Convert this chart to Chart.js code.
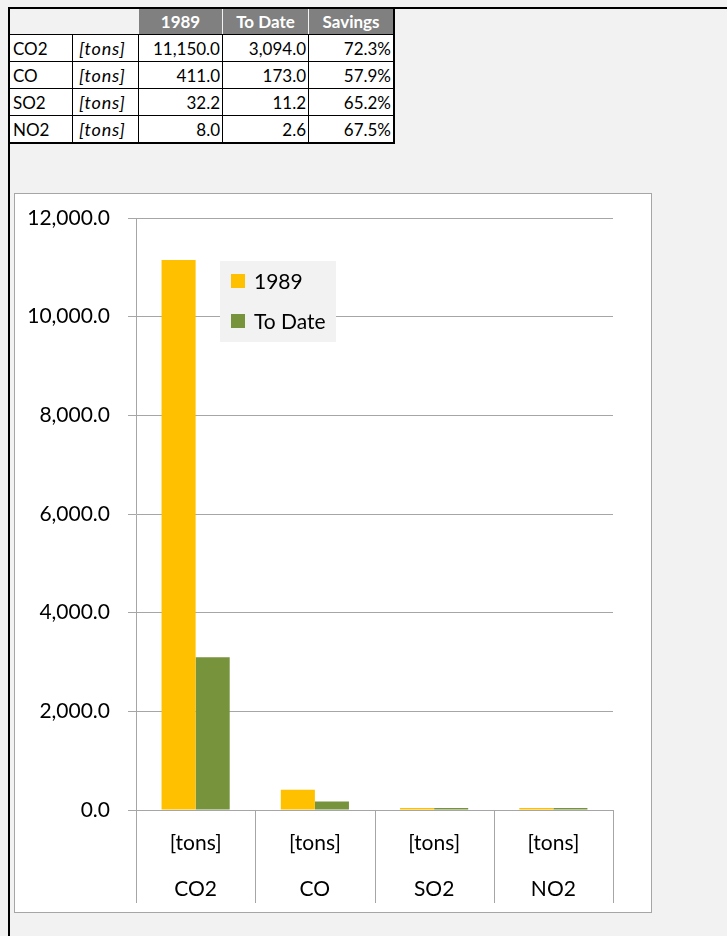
<!DOCTYPE html>
<html>
<head>
<meta charset="utf-8">
<script src="https://cdn.jsdelivr.net/npm/chart.js@4.4.0/dist/chart.umd.min.js"></script>
<style>
  body { margin: 0; background: #f2f2f2; width: 727px; height: 936px; overflow: hidden; position: relative; font-family: Lato, sans-serif; }
  #frame { position: absolute; left: 8px; top: 7px; width: 730px; height: 940px; border-top: 2px solid #000; border-left: 2px solid #000; }
  #tbl { position: absolute; left: 8px; top: 7px; border-collapse: collapse; border: 2px solid #000; font-size: 17px; }
  #tbl td { border: 1px solid #000; height: 26px; padding: 0 2px 0 3px; background: #fff; line-height: 17px; }
  #tbl td.num { text-align: right; }
  #tbl td.unit { font-style: italic; font-size: 18px; padding-left: 6px; letter-spacing: 0.8px; }
  #tbl th { height: 25px; padding: 0; background: #808080; color: #fff; font-weight: bold; border-left: 1px solid #f2f2f2; border-bottom: 1px solid #000; }
  #tbl th.blank { background: #f2f2f2; border-left: none; }
  #box { position: absolute; left: 14px; top: 193px; width: 636px; height: 718px; border: 1px solid #a6a6a6; background: #fff; }
  #box canvas { position: absolute; left: 0; top: 0; }
</style>
</head>
<body>
<div id="frame"></div>
<table id="tbl"></table>
<div id="box"><canvas id="chart" width="636" height="718"></canvas></div>
<script>
const categories = ["CO2", "CO", "SO2", "NO2"];
const units = ["[tons]", "[tons]", "[tons]", "[tons]"];
const values1989 = [11150.0, 411.0, 32.2, 8.0];
const valuesToDate = [3094.0, 173.0, 11.2, 2.6];
const savings = [72.3, 57.9, 65.2, 67.5];
const seriesNames = ["1989", "To Date", "Savings"];
const colors = ["#ffc000", "#77933c"];

function fmt(v) {
  return v.toLocaleString("en-US", { minimumFractionDigits: 1, maximumFractionDigits: 1 });
}

// table above the chart
const tbl = document.getElementById("tbl");
let html = '<tr><th class="blank" colspan="2" style="width:128px"></th>' +
  '<th style="width:83px">' + seriesNames[0] + '</th>' +
  '<th style="width:85px">' + seriesNames[1] + '</th>' +
  '<th style="width:84px">' + seriesNames[2] + '</th></tr>';
categories.forEach((c, i) => {
  html += '<tr><td style="width:57px">' + c + '</td><td class="unit">' + units[i] + '</td>' +
    '<td class="num">' + fmt(values1989[i]) + '</td>' +
    '<td class="num">' + fmt(valuesToDate[i]) + '</td>' +
    '<td class="num">' + savings[i].toFixed(1) + '%</td></tr>';
});
tbl.innerHTML = html;

const FONT = "Lato";

// legend box drawn inside the plot area
const legendBox = {
  id: "legendBox",
  afterDraw(chart) {
    const ctx = chart.ctx;
    const a = chart.chartArea;
    const x = a.left + 84, y = a.top + 43;
    ctx.save();
    ctx.fillStyle = "#f2f2f2";
    ctx.fillRect(x, y, 116, 81);
    ctx.font = "21px " + FONT;
    ctx.textBaseline = "middle";
    chart.data.datasets.forEach((ds, i) => {
      const ry = y + 20 + i * 40;
      ctx.fillStyle = ds.backgroundColor;
      ctx.fillRect(x + 11, ry - 7, 14, 14);
      ctx.fillStyle = "#000";
      ctx.fillText(ds.label, x + 34, ry + 1);
    });
    ctx.restore();
  }
};

// vertical separators between category labels
const separators = {
  id: "separators",
  afterDraw(chart) {
    const ctx = chart.ctx;
    const xs = chart.scales.x;
    const n = chart.data.labels.length;
    const step = xs.width / n;
    ctx.save();
    ctx.strokeStyle = "#a6a6a6";
    ctx.lineWidth = 1;
    for (let i = 0; i <= n; i++) {
      const px = Math.round(xs.left + i * step) + 0.5;
      ctx.beginPath();
      ctx.moveTo(px, xs.top);
      ctx.lineTo(px, xs.bottom);
      ctx.stroke();
    }
    ctx.restore();
  }
};

new Chart(document.getElementById("chart"), {
  type: "bar",
  data: {
    labels: categories.map((c, i) => [units[i], c]),
    datasets: [
      { label: seriesNames[0], data: values1989, backgroundColor: colors[0] },
      { label: seriesNames[1], data: valuesToDate, backgroundColor: colors[1] }
    ]
  },
  options: {
    responsive: false,
    animation: false,
    layout: { padding: { top: 24, right: 38, bottom: 9, left: 0 } },
    datasets: { bar: { categoryPercentage: 2 / 3.5, barPercentage: 1, minBarLength: 2 } },
    plugins: { legend: { display: false }, tooltip: { enabled: false } },
    scales: {
      x: {
        grid: { display: false },
        border: { display: false },
        ticks: {
          color: "#000",
          font: { family: FONT, size: 21, lineHeight: "46px" },
          padding: 2,
          maxRotation: 0,
          autoSkip: false
        },
        afterFit(scale) { scale.height = 93; }
      },
      y: {
        min: 0,
        max: 12000,
        grid: { color: "#a6a6a6", tickLength: 8 },
        border: { display: true, color: "#a6a6a6" },
        ticks: {
          stepSize: 2000,
          color: "#000",
          padding: 18,
          font: { family: FONT, size: 21 },
          callback: (v) => fmt(v)
        },
        afterFit(scale) {
          scale.width = 121;
          scale.paddingTop = 0;
          scale.paddingBottom = 0;
        }
      }
    }
  },
  plugins: [separators, legendBox]
});
</script>
</body>
</html>
